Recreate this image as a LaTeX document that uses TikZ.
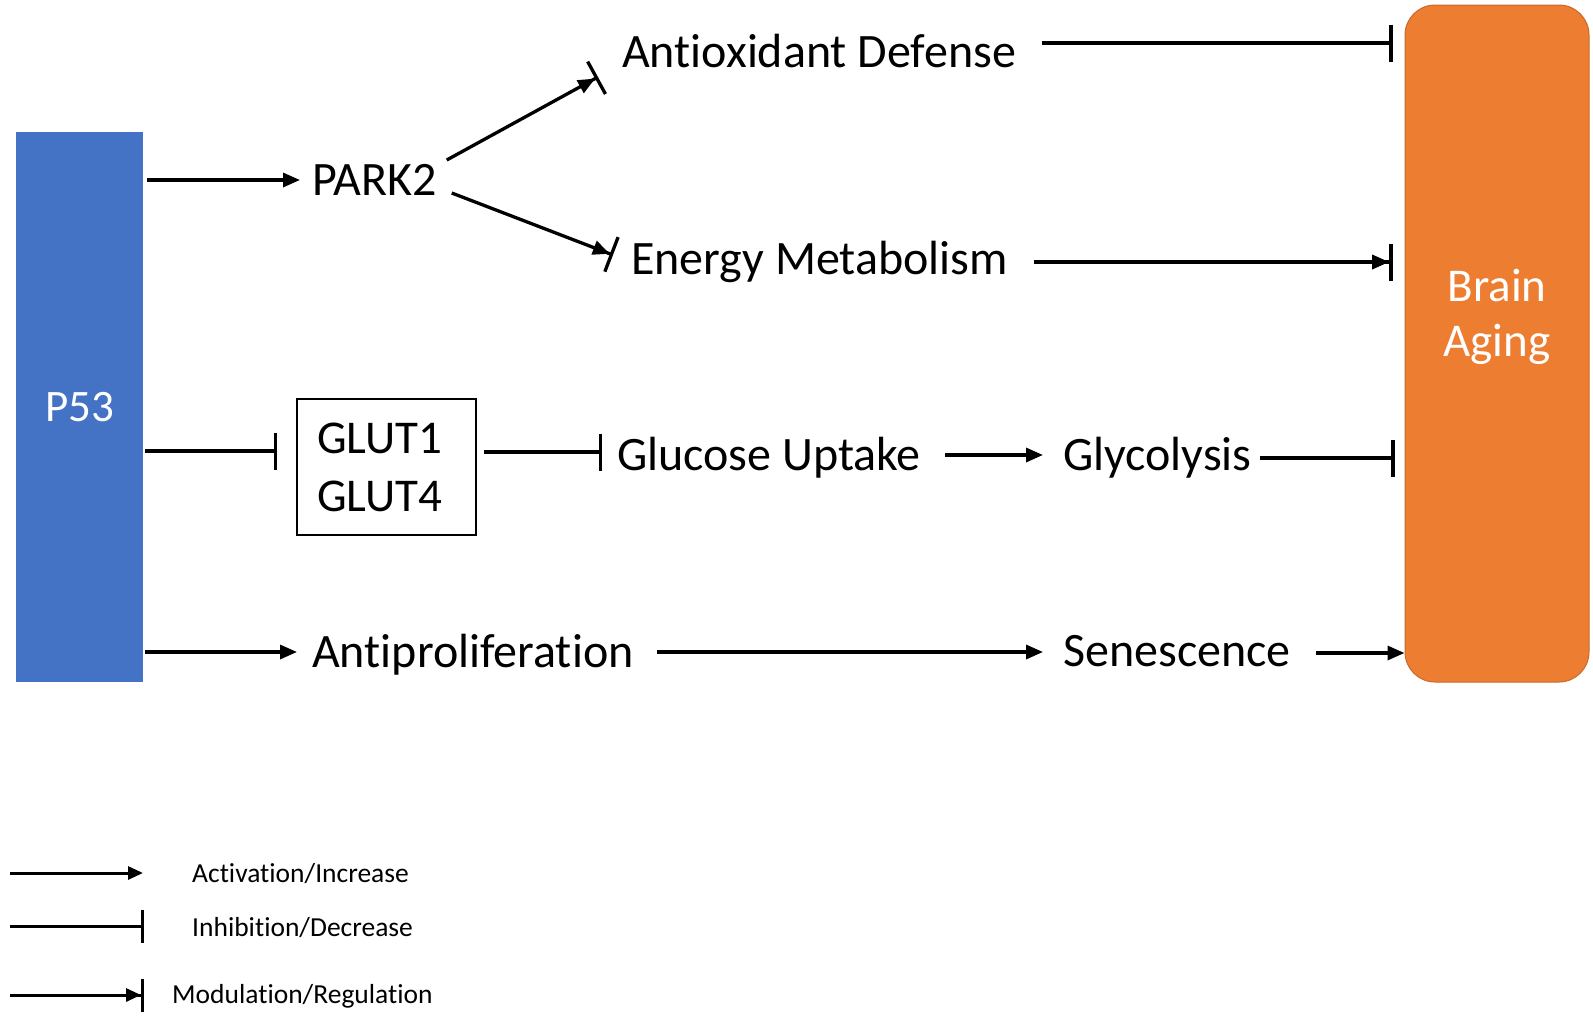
\documentclass[tikz,border=0pt]{standalone}
\usepackage{fontspec}
\setmainfont[Ligatures=NoCommon]{Carlito}
\usetikzlibrary{arrows.meta,calc}
\definecolor{pblue}{HTML}{4472C4}
\definecolor{borange}{HTML}{ED7D31}
\tikzset{
  txt/.style={font=\fontsize{48}{56}\selectfont, inner sep=0pt, anchor=base west},
  legtxt/.style={font=\fontsize{27.5}{32}\selectfont, inner sep=0pt, anchor=base west},
  act/.style={line width=3.3pt, -{Triangle[length=17pt,width=14pt]}},
  inh/.style={line width=3.3pt, -{Bar[width=37pt]}},
  modl/.style={line width=3.3pt, -{Triangle[length=17pt,width=14pt] Bar[width=37pt]}},
  lact/.style={line width=3pt, -{Triangle[length=15pt,width=13pt]}},
  linh/.style={line width=3pt, -{Bar[width=33pt]}},
  lmod/.style={line width=3pt, -{Triangle[length=15pt,width=13pt] Bar[width=33pt]}},
}
\begin{document}
\begin{tikzpicture}[x=1pt,y=-1pt]
\useasboundingbox (0,0) rectangle (1593,1018);
% boxes
\node[fill=pblue, minimum width=127pt, minimum height=550pt, inner sep=0pt,
      text=white, font=\fontsize{45}{52}\selectfont] (p53) at (79.5,407) {P53};
\node[fill=borange, draw=borange!85!black, line width=1pt, rounded corners=30pt,
      minimum width=184pt, minimum height=677pt, inner sep=0pt] (brain) at (1497,343.5) {};
\node[text=white, font=\fontsize{47}{55}\selectfont, align=center, inner sep=0pt, anchor=north]
      (braintxt) at (1497,269) {Brain\\Aging};
\node[draw, line width=1.5pt, minimum height=136pt, inner xsep=0pt, inner ysep=0pt,
      text width=179pt, align=left, font=\fontsize{47}{58}\selectfont]
      (glut) at (386.5,467) {\hspace*{20pt}GLUT1\\\hspace*{20pt}GLUT4};
% text nodes
\node[txt] (park) at (312,195) {PARK2};
\node[txt] (anti) at (622,67) {Antioxidant Defense};
\node[txt] (energy) at (631,274) {Energy Metabolism};
\node[txt] (glucose) at (617,470) {Glucose Uptake};
\node[txt] (glyco) at (1063,470) {Glycolysis};
\node[txt] (antip) at (312,667) {Antiproliferation};
\node[txt] (senes) at (1063,666) {Senescence};
% connectors
\draw[act] ($(p53.east |- park.base west)+(4,-15)$) -- ($(park.base west)+(-12,-15)$);
\draw[modl] ($(park.base east)+(10,-35)$) -- ($(anti.base west)+(-24,10)$);
\draw[modl] ($(park.base east)+(15,-2)$) -- ($(energy.base west)+(-18,-19)$);
\draw[inh] ($(anti.base east)+(26,-24)$) -- ($(brain.west |- anti.base east)+(-12,-24)$);
\draw[modl] ($(energy.base east)+(26,-12)$) -- ($(brain.west |- energy.base east)+(-12,-12)$);
\draw[inh] ($(p53.east |- glut.center)+(2,-16)$) -- ($(glut.west)+(-19,-16)$);
\draw[inh] ($(glut.east)+(7,-15)$) -- ($(glucose.base west)+(-15,-18)$);
\draw[act] ($(glucose.base east)+(24,-15)$) -- ($(glyco.base west)+(-20,-15)$);
\draw[inh] ($(glyco.base east)+(8,-12)$) -- ($(brain.west |- glyco.base east)+(-10,-12)$);
\draw[act] ($(p53.east |- antip.base west)+(2,-15)$) -- ($(antip.base west)+(-15,-15)$);
\draw[act] ($(antip.base east)+(23,-15)$) -- ($(senes.base west)+(-20,-14)$);
\draw[act] ($(senes.base east)+(25,-13)$) -- ($(brain.west |- senes.base east)+(0,-13)$);
% legend
\coordinate (l1a) at (10,873); \coordinate (l1b) at (143,873);
\coordinate (l2a) at (10,926); \coordinate (l2b) at (144,926);
\coordinate (l3a) at (10,995); \coordinate (l3b) at (144,995);
\draw[lact] (l1a) -- (l1b);
\draw[linh] (l2a) -- (l2b);
\draw[lmod] (l3a) -- (l3b);
\node[legtxt] (lg1) at (192,882) {Activation/Increase};
\node[legtxt] (lg2) at (192,936) {Inhibition/Decrease};
\node[legtxt] (lg3) at (172,1003) {Modulation/Regulation};
\end{tikzpicture}
\end{document}
